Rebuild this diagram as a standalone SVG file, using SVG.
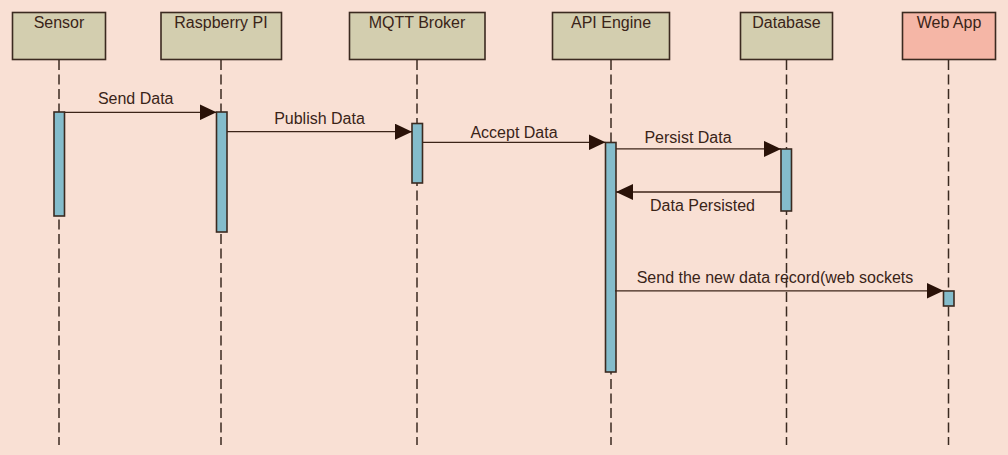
<svg xmlns="http://www.w3.org/2000/svg" width="1008" height="455" viewBox="0 0 1008 455">
<defs>
<style>
.hdr{fill:#D3CEAF;stroke:#3B2A20;stroke-width:1.6}
.hdr.web{fill:#F5B6A6}
.life{stroke:#3B2A20;stroke-width:1.5;stroke-dasharray:10 4.5;fill:none}
.act{fill:#84BCCB;stroke:#3B2A20;stroke-width:1.6}
.msg{stroke:#3C2418;stroke-width:1.3;fill:none}
text{font-family:"Liberation Sans",Arial,sans-serif;font-size:16px;fill:#3A2418;text-anchor:middle}
</style>
<marker id="ah" viewBox="0 0 17 16" refX="17" refY="8" markerWidth="17" markerHeight="16" markerUnits="userSpaceOnUse" orient="auto">
<path d="M0,0 L17,8 L0,16 Z" fill="#2A1208"/>
</marker>
</defs>
<rect width="1008" height="455" fill="#F9E0D4"/>
<g id="lifelines">
<line class="life" x1="59" y1="60" x2="59" y2="445"/>
<line class="life" x1="221" y1="60" x2="221" y2="445"/>
<line class="life" x1="417" y1="60" x2="417" y2="445"/>
<line class="life" x1="611" y1="60" x2="611" y2="445"/>
<line class="life" x1="786.5" y1="60" x2="786.5" y2="445"/>
<line class="life" x1="948.5" y1="60" x2="948.5" y2="445"/>
</g>
<g id="sensor">
<rect class="hdr" x="12.5" y="12.5" width="93" height="47"/>
<text x="59" y="28">Sensor</text>
<rect class="act" x="54" y="112" width="10.5" height="104"/>
</g>
<g id="raspberry">
<rect class="hdr" x="161" y="12.5" width="120.5" height="47"/>
<text x="221" y="28">Raspberry PI</text>
<rect class="act" x="216.5" y="112" width="10.5" height="120"/>
</g>
<g id="mqtt">
<rect class="hdr" x="349.5" y="12.5" width="135.5" height="47"/>
<text x="417" y="28">MQTT Broker</text>
<rect class="act" x="412" y="123.5" width="10.5" height="59.5"/>
</g>
<g id="api">
<rect class="hdr" x="552.5" y="12.5" width="117" height="47"/>
<text x="611" y="28">API Engine</text>
<rect class="act" x="605.5" y="142.5" width="10.5" height="229.5"/>
</g>
<g id="database">
<rect class="hdr" x="740.5" y="12.5" width="92" height="47"/>
<text x="786.5" y="28">Database</text>
<rect class="act" x="781" y="149" width="10.5" height="62"/>
</g>
<g id="webapp">
<rect class="hdr web" x="902.5" y="12.5" width="93" height="47"/>
<text x="949" y="28">Web App</text>
<rect class="act" x="943.5" y="291" width="10.5" height="15"/>
</g>
<g id="connectors">
<line class="msg" x1="64.5" y1="112.3" x2="216.5" y2="112.3" marker-end="url(#ah)"/>
<text x="135.7" y="104">Send Data</text>
<line class="msg" x1="227" y1="131.7" x2="412" y2="131.7" marker-end="url(#ah)"/>
<text x="319.5" y="124">Publish Data</text>
<line class="msg" x1="422.5" y1="142.3" x2="605.5" y2="142.3" marker-end="url(#ah)"/>
<text x="514" y="137.7">Accept Data</text>
<line class="msg" x1="616" y1="148.9" x2="781" y2="148.9" marker-end="url(#ah)"/>
<text x="688" y="142.7">Persist Data</text>
<line class="msg" x1="781" y1="192" x2="616" y2="192" marker-end="url(#ah)"/>
<text x="702.5" y="210.7">Data Persisted</text>
<line class="msg" x1="615" y1="290.8" x2="943.5" y2="290.8" marker-end="url(#ah)"/>
<text x="775" y="282.5">Send the new data record(web sockets</text>
</g>
</svg>
